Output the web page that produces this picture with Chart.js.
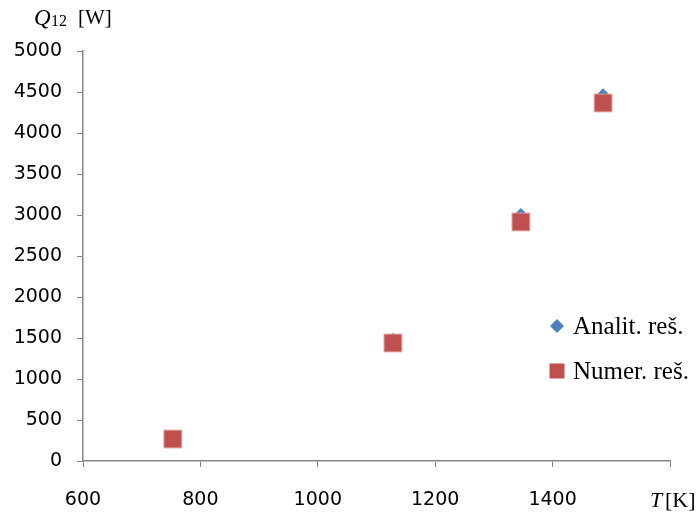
<!DOCTYPE html>
<html>
<head>
<meta charset="utf-8">
<script src="https://cdn.jsdelivr.net/npm/chart.js@4"></script>
<style>
  html, body { margin: 0; padding: 0; background: #fff; }
  #wrap { width: 700px; height: 514px; }
</style>
</head>
<body>
<div id="wrap"><canvas id="myScatter"></canvas></div>
<script>
// Podaci sa grafika
var temperature = [753, 1128, 1346, 1486];          // T [K]
var analitQ = [275, 1480, 3000, 4460];              // Analit. reš.
var numerQ = [268, 1439, 2915, 4366];               // Numer. reš.
var xTicks = [600, 800, 1000, 1200, 1400, 1600];
var yTicks = [0, 500, 1000, 1500, 2000, 2500, 3000, 3500, 4000, 4500, 5000];
var seriesNames = ['Analit. reš.', 'Numer. reš.'];

var blue = '#4F81BD';
var red = '#C0504D';
var axisGray = '#868686';

function toPoints(xs, ys) {
    return xs.map((x, i) => ({ x: x, y: ys[i] }));
}

// natpisi osa i legenda
var labelsPlugin = {
    id: 'labelsPlugin',
    afterDraw(chart) {
        var ctx = chart.ctx;
        ctx.save();
        ctx.fillStyle = '#000';
        ctx.textBaseline = 'alphabetic';
        ctx.textAlign = 'left';

        // Q12 [W]
        ctx.font = 'italic 23px "Liberation Serif"';
        ctx.fillText('Q', 34, 25);
        ctx.font = '16px "Liberation Serif"';
        ctx.fillText('12', 51, 26);
        ctx.font = '21px "Liberation Serif"';
        ctx.fillText('[W]', 78, 24);

        // T [K]
        ctx.font = 'italic 22px "Liberation Serif"';
        ctx.fillText('T', 650, 507);
        ctx.font = '22px "Liberation Serif"';
        ctx.fillText('[K]', 665, 507);

        // legenda
        var rows = [326, 371];
        chart.data.datasets.forEach((ds, i) => {
            var y = rows[i];
            ctx.fillStyle = ds.backgroundColor;
            if (ds.pointStyle === 'rectRot') {
                ctx.beginPath();
                ctx.moveTo(557, y - 7);
                ctx.lineTo(564, y);
                ctx.lineTo(557, y + 7);
                ctx.lineTo(550, y);
                ctx.closePath();
                ctx.fill();
            } else {
                ctx.fillRect(549.5, y - 7.5, 15, 15);
            }
            ctx.fillStyle = '#000';
            ctx.font = '25px "Liberation Serif"';
            ctx.textBaseline = 'middle';
            ctx.fillText(ds.label, 573, y + 1);
        });
        ctx.restore();
    }
};

var ctx = document.getElementById('myScatter').getContext('2d');
var myScatter = new Chart(ctx, {
    type: 'scatter',
    data: {
        datasets: [{
            label: seriesNames[0],
            data: toPoints(temperature, analitQ),
            pointStyle: 'rectRot',
            pointRadius: 7,
            pointHoverRadius: 7,
            backgroundColor: blue,
            borderColor: blue,
            borderWidth: 0,
            order: 2
        }, {
            label: seriesNames[1],
            data: toPoints(temperature, numerQ),
            pointStyle: 'rect',
            pointRadius: 12.5,
            pointHoverRadius: 12.5,
            backgroundColor: red,
            borderColor: '#D99694',
            borderWidth: 1,
            order: 1
        }]
    },
    options: {
        responsive: true,
        maintainAspectRatio: false,
        animation: false,
        layout: {
            padding: { top: 51, right: 30, left: 0, bottom: 0 }
        },
        plugins: {
            legend: { display: false },
            tooltip: { enabled: false }
        },
        scales: {
            x: {
                type: 'linear',
                min: xTicks[0],
                max: xTicks[xTicks.length - 1],
                afterBuildTicks: s => { s.ticks = xTicks.map(v => ({ value: v })); },
                afterFit: s => { s.height = 53; },
                grid: { drawOnChartArea: false, color: axisGray, tickLength: 6 },
                border: { color: axisGray, width: 1.5 },
                ticks: {
                    color: '#000',
                    padding: 22,
                    maxRotation: 0,
                    font: { family: 'DejaVu Sans', size: 19 },
                    callback: v => (v === 1600 ? '' : String(v))
                }
            },
            y: {
                min: yTicks[0],
                max: yTicks[yTicks.length - 1],
                afterBuildTicks: s => { s.ticks = yTicks.map(v => ({ value: v })); },
                afterFit: s => { s.width = 83; },
                grid: { drawOnChartArea: false, color: axisGray, tickLength: 6 },
                border: { color: axisGray, width: 1.5 },
                ticks: {
                    color: '#000',
                    padding: 15,
                    font: { family: 'DejaVu Sans', size: 19 },
                    callback: v => String(v)
                }
            }
        }
    },
    plugins: [labelsPlugin]
});
</script>
</body>
</html>
